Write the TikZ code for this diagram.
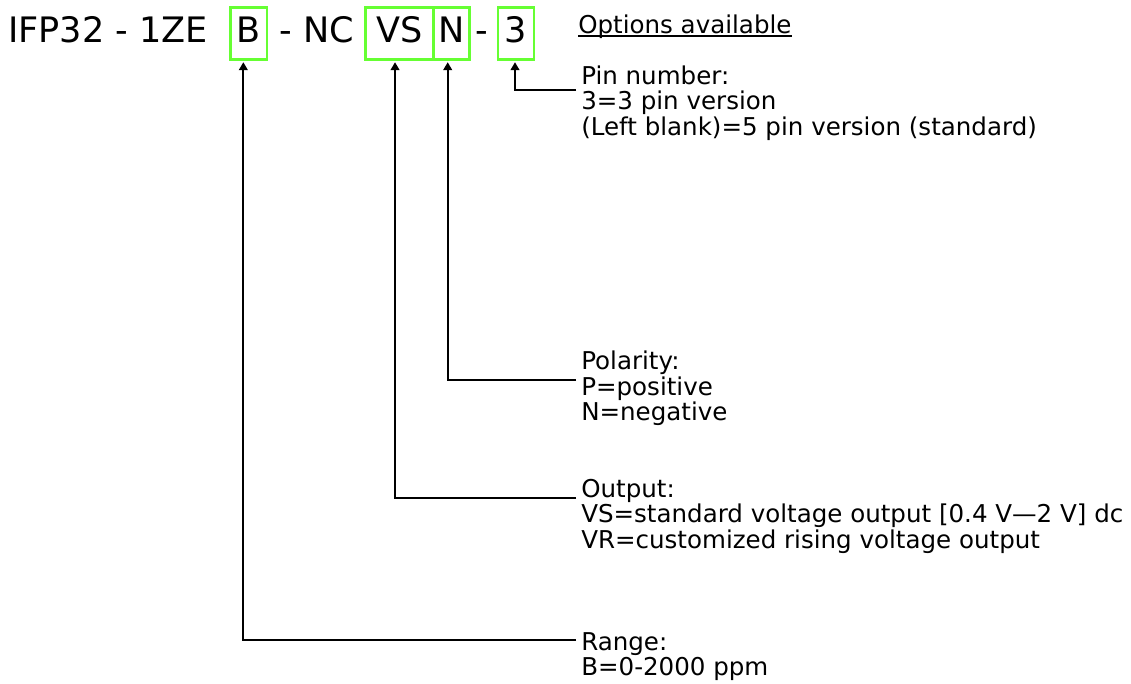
\documentclass[tikz,border=0pt]{standalone}
\usepackage{fontspec}
\setmainfont{DejaVu Sans}
\usetikzlibrary{arrows.meta}

\definecolor{optgreen}{RGB}{102,255,51}
\newcommand{\codefont}{\fontsize{26.3pt}{30pt}\selectfont}
\newcommand{\descfont}{\fontsize{18.4pt}{19.1pt}\selectfont}

\tikzset{
  part/.style={inner sep=0pt, anchor=base, font=\codefont},
  optbox/.style={part, draw=optgreen, line width=2.2pt, text height=26.2pt, text depth=12.7pt},
  desc/.style={inner sep=0pt, anchor=base west, align=left, font=\descfont},
  pointer/.style={-{Triangle[width=6.5pt,length=6pt]}, line width=1.5pt, shorten >=1.1pt},
}

\begin{document}
\begin{tikzpicture}[x=0.75pt, y=-0.75pt]
        \useasboundingbox (0,0) rectangle (1131,683);

        % Part number
        \node[part, anchor=base west] (title) at (8,42.3) {IFP32 - 1ZE};
        \node[optbox, minimum width=27.3pt] (boxB) at (248.8,42.3) {B};
        \node[part] (dashNC) at (317,42.3) {- NC};
        \node[optbox, minimum width=51pt] (boxVS) at (399.3,42.3) {VS};
        \node[optbox, minimum width=27pt] (boxN) at (451.3,42.3) {N};
        \node[part] (dashN) at (482,42.3) {-};
        \node[optbox, minimum width=27pt] (box3) at (516,42.3) {3};

        % Heading
        \node[desc] (opts) at (578,33) {Options available};
        \draw[line width=1.5pt] ([yshift=-2.3pt]opts.base west) -- ([yshift=-2.3pt]opts.base east);

        % Options (anchored on the last line)
        \node[desc] (pin) at (581,135) {Pin number:\\3=3 pin version\\(Left blank)=5 pin version (standard)};
        \node[desc] (pol) at (581,420.5) {Polarity:\\P=positive\\N=negative};
        \node[desc] (out) at (581,548) {Output:\\VS=standard voltage output [0.4 V—2 V] dc\\VR=customized rising voltage output};
        \node[desc] (rng) at (581,675.5) {Range:\\B=0-2000 ppm};

        % Leaders
        \coordinate (pinlead) at (576,89.5);
        \coordinate (pollead) at (576,380);
        \coordinate (outlead) at (576,498);
        \coordinate (rnglead) at (576,640);
        \draw[pointer] (pinlead) -| ([xshift=-0.75pt]box3.south);
        \draw[pointer] (pollead) -| ([xshift=-2.7pt]boxN.south);
        \draw[pointer] (outlead) -| ([xshift=-3.2pt]boxVS.south);
        \draw[pointer] (rnglead) -| ([xshift=-4.1pt]boxB.south);
    \end{tikzpicture}
\end{document}
